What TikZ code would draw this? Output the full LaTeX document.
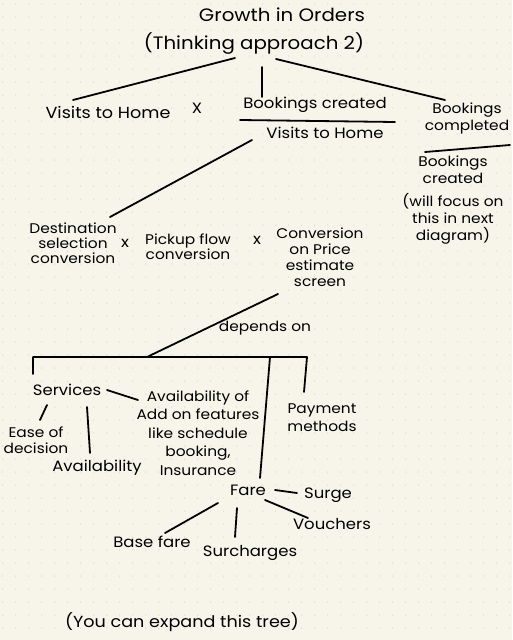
\documentclass[tikz,border=0pt]{standalone}
\usepackage{fontspec}
\setmainfont[FakeStretch=1.1]{Poppins}
\definecolor{paper}{HTML}{F7F5EA}
\definecolor{dotc}{HTML}{D9D7CC}
\begin{document}
\begin{tikzpicture}[x=1pt,y=-1pt,
  lbl/.style={inner sep=0pt,align=center,font=\fontsize{15}{17}\selectfont},
  conn/.style={line width=1.8pt,line cap=round,line join=round}]
\useasboundingbox (0,0) rectangle (512,640);
\fill[paper] (0,0) rectangle (512,640);
\foreach \i in {0,...,39} \foreach \j in {0,...,48}
  \fill[dotc] (2.7+13*\i,4+13*\j) circle (0.7);
% nodes
\node[lbl,font=\fontsize{18}{20}\selectfont] (title1) at (282,15) {Growth in Orders};
\node[lbl,font=\fontsize{18}{20}\selectfont] (title2) at (254,44) {(Thinking approach 2)};
\node[lbl,font=\fontsize{16}{18}\selectfont] (vh) at (108,112) {Visits to Home};
\node[lbl] (x0) at (197,108) {X};
\node[lbl] (bc) at (315,105) {Bookings created};
\node[lbl] (vh2) at (325,133) {Visits to Home};
\node[lbl,font=\fontsize{14}{17}\selectfont] (bcomp) at (467,118) {Bookings\\completed};
\node[lbl,font=\fontsize{14}{17}\selectfont] (bcr) at (453,200) {Bookings\\created\\[6pt](will focus on\\this in next\\diagram)};
\node[lbl,font=\fontsize{14}{15}\selectfont] (dest) at (73,243) {Destination\\selection\\conversion};
\node[lbl] (x1) at (125,243) {x};
\node[lbl,font=\fontsize{14}{15}\selectfont] (pick) at (188,247) {Pickup flow\\conversion};
\node[lbl] (x2) at (257,240) {x};
\node[lbl,font=\fontsize{14}{16}\selectfont] (conv) at (320,257) {Conversion\\on Price\\estimate\\screen};
\node[lbl,font=\fontsize{14}{16}\selectfont] (dep) at (265,328) {depends on};
\node[lbl] (svc) at (67,390) {Services};
\node[lbl,font=\fontsize{14}{16}\selectfont] (ease) at (36,440) {Ease of\\decision};
\node[lbl] (avail) at (97,468) {Availability};
\node[lbl,font=\fontsize{14}{18.5}\selectfont] (addon) at (198,433) {Availability of\\Add on features\\like schedule\\booking,\\Insurance};
\node[lbl,font=\fontsize{14}{18}\selectfont] (pay) at (322,418) {Payment\\methods};
\node[lbl] (fare) at (248,490) {Fare};
\node[lbl] (surge) at (328,495) {Surge};
\node[lbl] (vouch) at (332,524) {Vouchers};
\node[lbl] (base) at (152,542) {Base fare};
\node[lbl] (surch) at (250,553) {Surcharges};
\node[lbl,font=\fontsize{16}{18}\selectfont] (note) at (182,622) {(You can expand this tree)};
% bracket coordinates
\coordinate (bl) at (33,357);
\coordinate (bm) at (270,357);
\coordinate (brr) at (307,357);
\coordinate (bj) at (147,357);
% fraction lines
\draw[conn] ([shift={(-75,15)}]bc.center) -- ([shift={(80,17)}]bc.center);
\draw[conn] ([shift={(-42,34)}]bcomp.center) -- ([shift={(43,27)}]bcomp.center);
% connectors
\draw[conn] ([shift={(-19,14)}]title2.center) -- ([shift={(-35,-12)}]vh.center);
\draw[conn] ([shift={(8,23)}]title2.center) -- ([shift={(-53,-8)}]bc.center);
\draw[conn] ([shift={(22,15)}]title2.center) -- ([shift={(-22,-18)}]bcomp.center);
\draw[conn] ([shift={(-73,7)}]vh2.center) -- ([shift={(37,-26)}]dest.center);
\draw[conn] ([shift={(-42,37)}]conv.center) -- (bj);
\draw[conn] ([shift={(-34,-16)}]svc.center) -- (bl) -- (brr) -- ([shift={(-18,-26)}]pay.center);
\draw[conn] (bm) -- ([shift={(12,-12)}]fare.center);
\draw[conn] ([shift={(-20,15)}]svc.center) -- ([shift={(4,-20)}]ease.center);
\draw[conn] ([shift={(20,17)}]svc.center) -- ([shift={(-7,-15)}]avail.center);
\draw[conn] ([shift={(40,0)}]svc.center) -- ([shift={(-60,-33)}]addon.center);
\draw[conn] ([shift={(27,0)}]fare.center) -- ([shift={(-31,-2)}]surge.center);
\draw[conn] ([shift={(17,10)}]fare.center) -- ([shift={(-24,-6)}]vouch.center);
\draw[conn] ([shift={(-30,13)}]fare.center) -- ([shift={(13,-9)}]base.center);
\draw[conn] ([shift={(-11,18)}]fare.center) -- ([shift={(-15,-16)}]surch.center);
\end{tikzpicture}
\end{document}
